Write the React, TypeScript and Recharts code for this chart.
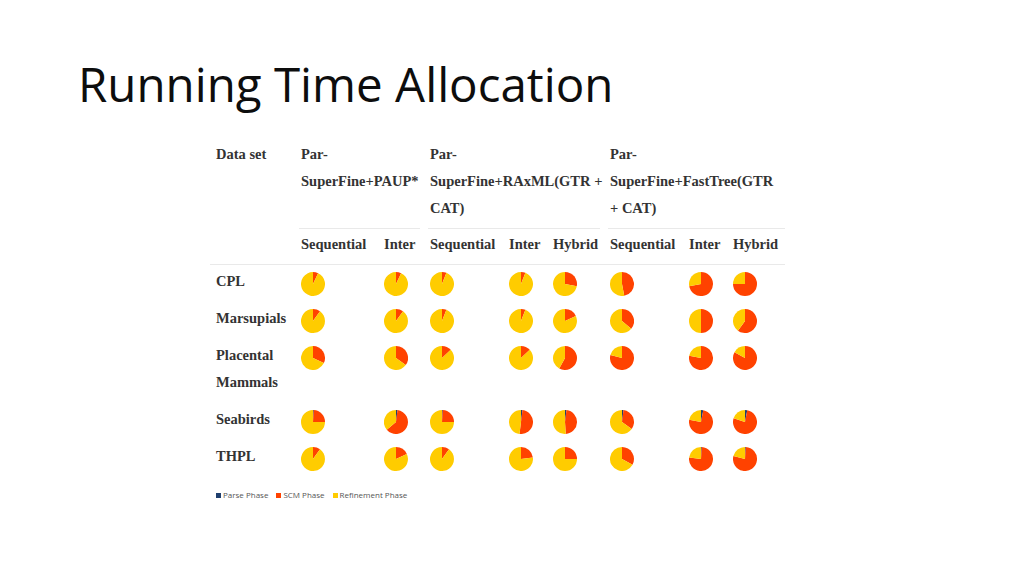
import React from "react";
import { PieChart, Pie, Cell } from "recharts";

// phases, in the order they are drawn clockwise from 12 o'clock
const phases = ["Parse Phase", "SCM Phase", "Refinement Phase"];
const phaseColors = ["#1f3f6e", "#ff4200", "#ffcc00"];

const methodGroups = [
  ["Par-", "SuperFine+PAUP*"],
  ["Par-", "SuperFine+RAxML(GTR +", "CAT)"],
  ["Par-", "SuperFine+FastTree(GTR", "+ CAT)"],
];
const groupSpans = [2, 3, 3];
const columns = ["Sequential", "Inter", "Sequential", "Inter", "Hybrid", "Sequential", "Inter", "Hybrid"];

const datasets = [["CPL"], ["Marsupials"], ["Placental", "Mammals"], ["Seabirds"], ["THPL"]];

// % of running time [parse, scm, refinement] per column
const cplShares = [[0, 7, 93], [0, 7, 93], [0, 6, 94], [0, 6, 94], [0, 28, 72], [0, 47, 53], [0, 72, 28], [0, 75, 25]];
const marsupialShares = [[0, 10, 90], [0, 10, 90], [0, 6, 94], [0, 6, 94], [0, 18, 82], [0, 36, 64], [0, 50, 50], [0, 60, 40]];
const placentalShares = [[0, 32, 68], [0, 35, 65], [0, 13, 87], [0, 13, 87], [0, 58, 42], [0, 79, 21], [0, 78, 22], [0, 83, 17]];
const seabirdShares = [[1, 24, 75], [2, 62, 36], [1, 24, 75], [2, 50, 48], [2, 47, 51], [2, 33, 65], [3, 75, 22], [3, 77, 20]];
const thplShares = [[0, 10, 90], [0, 18, 82], [0, 10, 90], [0, 23, 77], [0, 25, 75], [0, 33, 67], [1, 76, 23], [1, 78, 21]];

const rows = [cplShares, marsupialShares, placentalShares, seabirdShares, thplShares];

const colWidths = "91px 83px 46px 79px 44px 57px 79px 44px 52px";
const lineColor = "#e9e9e9";
const textStyle: React.CSSProperties = {
  fontFamily: '"Liberation Serif", serif',
  fontWeight: 700,
  fontSize: 14.5,
  lineHeight: "27px",
  color: "#333",
  whiteSpace: "nowrap",
};

function MiniPie({ shares }: { shares: number[] }) {
  const data = phases.map((name, i) => ({ name, value: shares[i] }));
  return (
    <PieChart width={24} height={24} margin={{ top: 0, right: 0, bottom: 0, left: 0 }}>
      <Pie
        data={data}
        dataKey="value"
        cx="50%"
        cy="50%"
        outerRadius={12}
        startAngle={90}
        endAngle={-270}
        stroke="none"
        isAnimationActive={false}
      >
        {data.map((d, i) => (
          <Cell key={d.name} fill={phaseColors[i]} />
        ))}
      </Pie>
    </PieChart>
  );
}

export default function App() {
  return (
    <div
      style={{
        position: "absolute",
        left: 0,
        top: 0,
        width: 1024,
        height: 575,
        background: "#fff",
        overflow: "hidden",
      }}
    >
      <div
        style={{
          position: "absolute",
          left: 78,
          top: 60,
          fontFamily: '"Open Sans", sans-serif',
          fontSize: 47.5,
          lineHeight: "48px",
          color: "#0d0d0d",
          whiteSpace: "nowrap",
        }}
      >
        Running Time Allocation
      </div>

      <div
        style={{
          position: "absolute",
          left: 210,
          top: 141,
          display: "grid",
          gridTemplateColumns: colWidths,
          ...textStyle,
        }}
      >
        {/* header: method groups */}
        <div style={{ paddingLeft: 6 }}>Data set</div>
        {methodGroups.map((lines, g) => (
          <div
            key={g}
            style={{
              gridColumn: `span ${groupSpans[g]}`,
              marginRight: g < 2 ? 10 : 0,
              marginLeft: -2,
              paddingLeft: 2,
              paddingBottom: 6,
              height: 81,
              borderBottom: `1px solid ${lineColor}`,
            }}
          >
            {lines.map((l, i) => (
              <div key={i}>{l}</div>
            ))}
          </div>
        ))}

        {/* header: run variants */}
        <div style={{ borderBottom: `1px solid ${lineColor}` }} />
        {columns.map((c, i) => (
          <div
            key={i}
            style={{ paddingTop: 2, paddingBottom: 6, borderBottom: `1px solid ${lineColor}` }}
          >
            {c}
          </div>
        ))}

        {/* data rows */}
        {rows.map((shares, r) => (
          <React.Fragment key={r}>
            <div style={{ paddingLeft: 6, paddingTop: 3, paddingBottom: 7 }}>
              {datasets[r].map((l, i) => (
                <div key={i}>{l}</div>
              ))}
            </div>
            {shares.map((s, c) => (
              <div key={c} style={{ paddingTop: 7 }}>
                <MiniPie shares={s} />
              </div>
            ))}
          </React.Fragment>
        ))}
      </div>

      <div
        style={{
          position: "absolute",
          left: 216,
          top: 489,
          display: "flex",
          alignItems: "center",
          fontFamily: '"Open Sans", sans-serif',
          fontSize: 8,
          lineHeight: "12px",
          color: "#555",
        }}
      >
        {phases.map((p, i) => (
          <div key={p} style={{ display: "flex", alignItems: "center", marginRight: 8 }}>
            <span style={{ width: 5, height: 5, background: phaseColors[i], marginRight: 2 }} />
            {p}
          </div>
        ))}
      </div>
    </div>
  );
}
